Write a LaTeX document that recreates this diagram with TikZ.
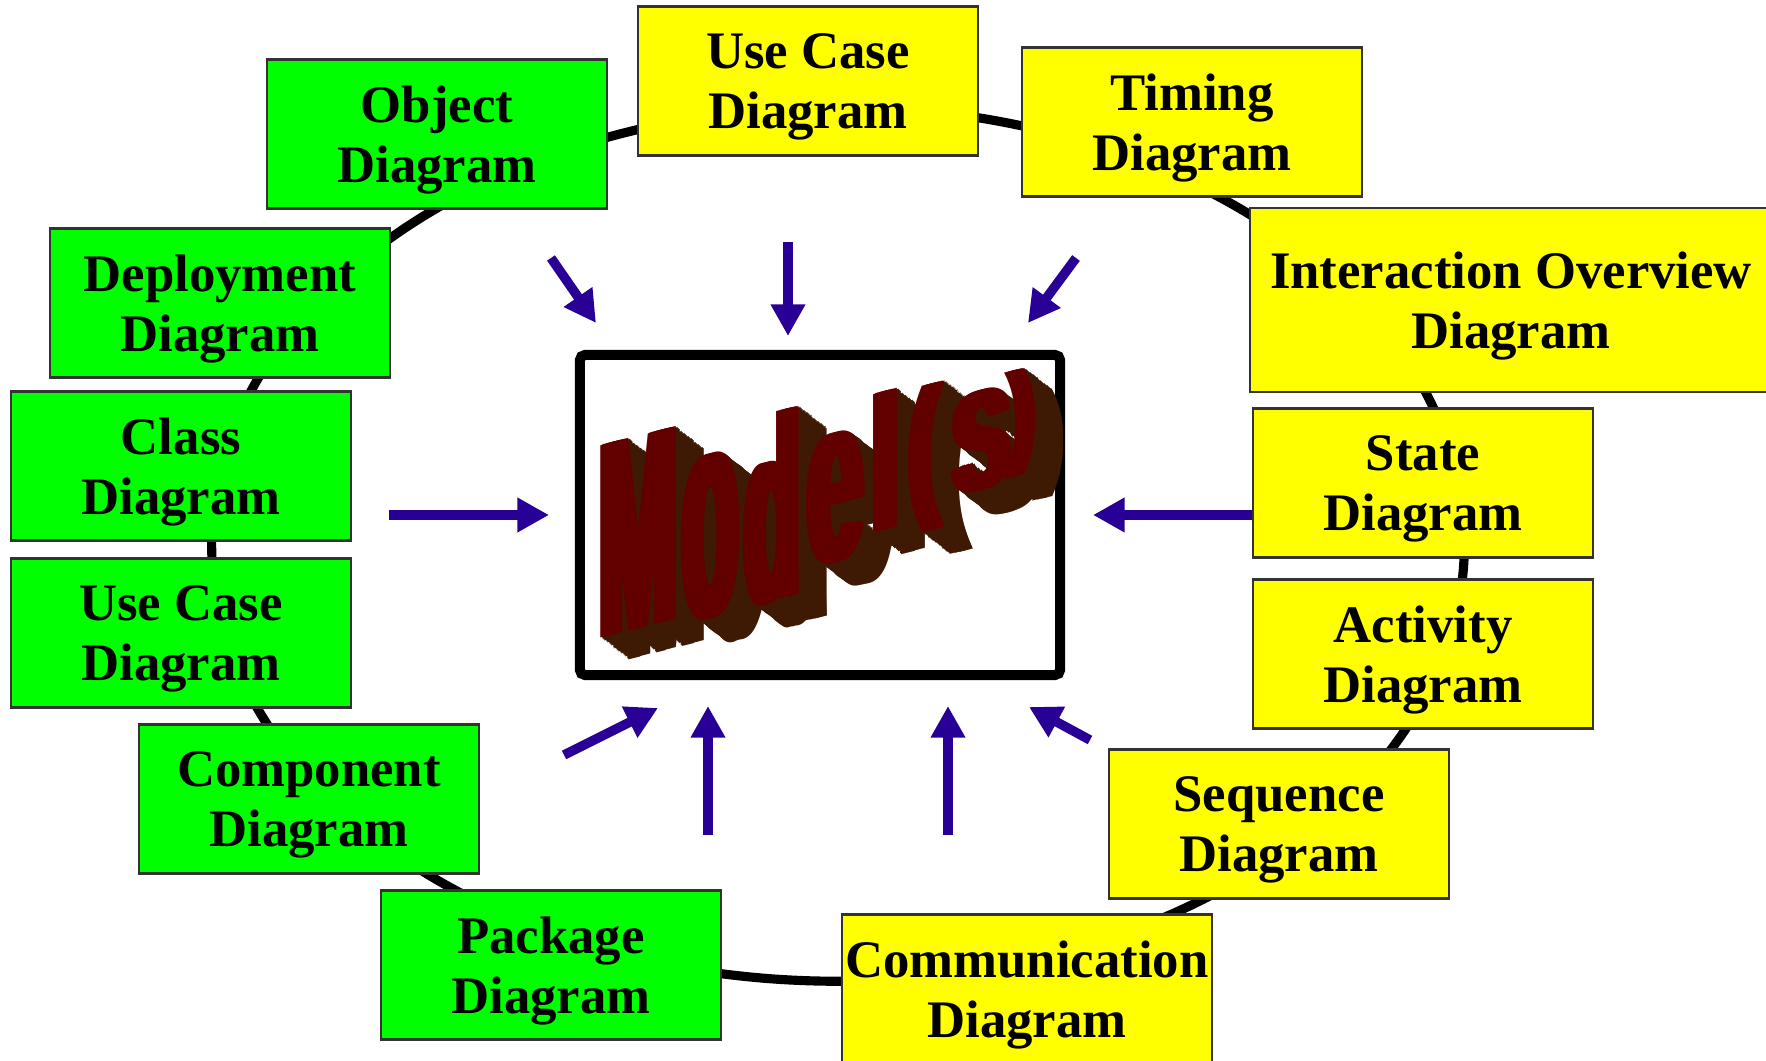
\documentclass[tikz,border=0pt]{standalone}
\usepackage{fontspec}
\usepackage{graphicx}
\setmainfont{Liberation Serif}
\newfontfamily\wordartfont{Liberation Sans}
\usetikzlibrary{arrows.meta}

\definecolor{structgreen}{RGB}{0,255,0}
\definecolor{behavyellow}{RGB}{255,255,0}
\definecolor{feedblue}{RGB}{40,0,150}
\definecolor{wordface}{RGB}{98,0,0}
\definecolor{wordside}{RGB}{62,26,4}

\tikzset{
  diagbox/.style={draw=black!80, line width=0.6pt, minimum width=3.39cm,
    minimum height=1.49cm, inner sep=0pt, align=center, text depth=0pt,
    font=\fontsize{15}{17.2}\selectfont\bfseries},
  structbox/.style={diagbox, fill=structgreen},
  behavbox/.style={diagbox, fill=behavyellow},
  feed/.style={feedblue, line width=2.7pt, -{Triangle[length=9pt, width=9.3pt]}}
}

% one letter of the title: lower left corner (#2,#3), box #4 x #5 cm,
% colour #6, copies shifted by the list #7 to fatten the strokes
\newcommand{\artglyph}[7]{%
  \begin{scope}[shift={(#2,#3)}, yslant=0.25]
    \foreach \s in {#7}{
      \node[anchor=south west, inner sep=0pt, text=#6, transform shape]
        at (\s,0) {\resizebox*{#4cm}{#5cm}{\wordartfont\bfseries #1}};}
  \end{scope}}
\newcommand{\modelword}[2]{%
  \artglyph{M}{594}{640}{0.78}{1.92}{#1}{#2}
  \artglyph{o}{677}{628}{0.56}{1.65}{#1}{#2}
  \artglyph{d}{739}{612}{0.56}{1.90}{#1}{#2}
  \artglyph{e}{802}{572}{0.56}{1.30}{#1}{#2}
  \artglyph{l}{866}{535}{0.28}{1.38}{#1}{#2}
  \artglyph{(}{903}{538}{0.32}{1.46}{#1}{#2}
  \artglyph{s}{946}{500}{0.60}{1.00}{#1}{#2}
  \artglyph{)}{1004}{480}{0.25}{1.06}{#1}{#2}}

\begin{document}
\begin{tikzpicture}[x=0.01cm, y=-0.01cm]
\useasboundingbox (0,0) rectangle (1766,1061);

% ring behind the boxes
\draw[line width=2.6pt] (838,544) ellipse [x radius=6.26cm, y radius=4.37cm];

% green boxes
\node[structbox] (object) at (437,134) {Object\\Diagram};
\node[structbox] (deployment) at (220,303) {Deployment\\Diagram};
\node[structbox] (class) at (181,466) {Class\\Diagram};
\node[structbox] (usecase) at (181,633) {Use Case\\Diagram};
\node[structbox] (component) at (309,799) {Component\\Diagram};
\node[structbox] (package) at (551,965) {Package\\Diagram};

% yellow boxes
\node[behavbox] (usecasetop) at (808,81) {Use Case\\Diagram};
\node[behavbox] (timing) at (1192,122) {Timing\\Diagram};
\node[behavbox, minimum width=5.22cm, minimum height=1.84cm] (overview) at (1511,300) {Interaction Overview\\Diagram};
\node[behavbox] (state) at (1423,483) {State\\Diagram};
\node[behavbox] (activity) at (1423,654) {Activity\\Diagram};
\node[behavbox] (sequence) at (1279,824) {Sequence\\Diagram};
\node[behavbox, minimum width=3.69cm] (communication) at (1027,989) {Communication\\Diagram};

% model box with the extruded title
\node[draw, line width=2.85pt, rounded corners=1.5pt, fill=white,
  minimum width=4.8cm, minimum height=3.2cm] (model) at (820,515) {};
\foreach \k in {1,...,20}{
  \begin{scope}[shift={(1.4*\k,1.1*\k)}]
    \modelword{wordside}{0,5,10}
  \end{scope}}
\modelword{wordface}{0,2,...,10}

% arrows into the model
\coordinate (nwtail) at (551,258);   \coordinate (nwhead) at (596,323);
\coordinate (ntail) at (788,242);    \coordinate (nhead) at (788,336);
\coordinate (netail) at (1076,258);  \coordinate (nehead) at (1028,323);
\coordinate (wtail) at (389,515);    \coordinate (whead) at (549,515);
\coordinate (etail) at (1252,515);   \coordinate (ehead) at (1093,515);
\coordinate (swtail) at (564,755);   \coordinate (swhead) at (658,708);
\coordinate (sswtail) at (708,835);  \coordinate (sswhead) at (708,706);
\coordinate (ssetail) at (948,835);  \coordinate (ssehead) at (948,706);
\coordinate (setail) at (1090,740);  \coordinate (sehead) at (1029,707);
\foreach \d in {nw,n,ne,w,e,sw,ssw,sse,se}
  \draw[feed] (\d tail) -- (\d head);
\end{tikzpicture}
\end{document}
